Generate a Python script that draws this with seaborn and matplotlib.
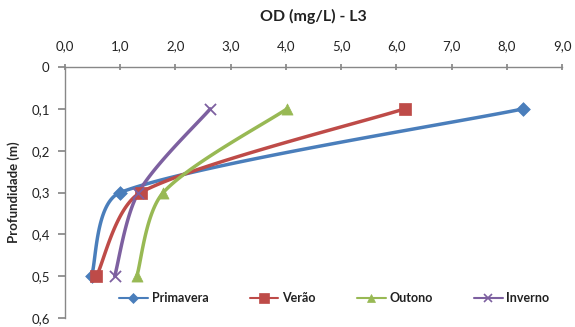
import numpy as np
import pandas as pd
import matplotlib
matplotlib.use("Agg")
import matplotlib.pyplot as plt
import seaborn as sns
from matplotlib.lines import Line2D

sns.set_theme(style="white")
plt.rcParams['font.family'] = ['Lato', 'DejaVu Sans']

depth = [0.1, 0.3, 0.5]
primavera = [8.3, 1.0, 0.48]
verao = [6.15, 1.37, 0.57]
outono = [4.02, 1.78, 1.3]
inverno = [2.63, 1.33, 0.9]
series_names = ["Primavera", "Verão", "Outono", "Inverno"]
x_ticks = [0, 1, 2, 3, 4, 5, 6, 7, 8, 9]
y_ticks = [0, 0.1, 0.2, 0.3, 0.4, 0.5, 0.6]

colors = ["#4A7EBB", "#BE4B48", "#98B954", "#7D60A0"]
markers = ["D", "s", "^", "x"]
msizes = [7, 9, 8, 8]

fig = plt.figure(figsize=(5.75, 3.27), dpi=100)
ax = fig.add_axes([65/575, 1-318/327, (562-65)/575, (318-67)/327])

sx = (562-65)/9.0
sy = (318-67)/0.6

def smooth(xs, ys, n=50, k=0.3):
    P = np.column_stack([np.array(xs)*sx, np.array(ys)*sy])
    out = []
    m = len(P)
    for i in range(m-1):
        p0 = P[i-1] if i > 0 else P[i]
        p1 = P[i]
        p2 = P[i+1]
        p3 = P[i+2] if i+2 < m else P[i+1]
        d12 = np.linalg.norm(p2-p1)
        a1 = (p2-p0)/6.0
        a2 = (p3-p1)/6.0
        if np.linalg.norm(a1) > k*d12:
            a1 = a1*k*d12/np.linalg.norm(a1)
        if np.linalg.norm(a2) > k*d12:
            a2 = a2*k*d12/np.linalg.norm(a2)
        c1 = p1 + a1
        c2 = p2 - a2
        t = np.linspace(0, 1, n)[:, None]
        b = (1-t)**3*p1 + 3*(1-t)**2*t*c1 + 3*(1-t)*t**2*c2 + t**3*p2
        out.append(b if i == 0 else b[1:])
    B = np.vstack(out)
    return B[:, 0]/sx, B[:, 1]/sy

vals = [primavera, verao, outono, inverno]
rows = []
for name, v in zip(series_names, vals):
    cx, cy = smooth(v, depth)
    for a, b in zip(cx, cy):
        rows.append({"serie": name, "od": a, "prof": b})
curves = pd.DataFrame(rows)
pts = pd.DataFrame([{"serie": n, "od": a, "prof": d}
                    for n, v in zip(series_names, vals) for a, d in zip(v, depth)])

for i, name in enumerate(series_names):
    sns.lineplot(data=curves[curves.serie == name], x="od", y="prof", sort=False,
                 estimator=None, color=colors[i], lw=2.5, ax=ax, legend=False)
for i, name in enumerate(series_names):
    sub = pts[pts.serie == name]
    if markers[i] == "x":
        ax.scatter(sub.od, sub.prof, marker="x", s=msizes[i]**2, color=colors[i],
                   linewidths=1.3, zorder=5)
    else:
        ax.scatter(sub.od, sub.prof, marker=markers[i], s=msizes[i]**2, color=colors[i],
                   edgecolors=colors[i], linewidths=0.5, zorder=5)

ax.set_xlim(0, 9)
ax.set_ylim(0.6, 0)
ax.xaxis.tick_top()
ax.set_xticks(x_ticks)
ax.set_xticklabels([f"{t:.1f}".replace(".", ",") for t in x_ticks], fontsize=9.5)
ax.set_yticks(y_ticks)
ax.set_yticklabels(["0"] + [f"{t:.1f}".replace(".", ",") for t in y_ticks[1:]], fontsize=9.5)
ax.set_xlabel("")
ax.set_ylabel("Profundidade (m)", fontsize=9.5, fontweight="bold", labelpad=8)
ax.tick_params(axis="x", which="both", direction="inout", length=5, color="#888888",
               top=True, bottom=False, pad=8, labelcolor="#222222")
ax.tick_params(axis="y", which="both", direction="out", length=5, color="#888888",
               left=True, pad=6, labelcolor="#222222")
for s in ["right", "bottom"]:
    ax.spines[s].set_visible(False)
for s in ["top", "left"]:
    ax.spines[s].set_color("#888888")
    ax.spines[s].set_linewidth(1.0)
ax.grid(False)

fig.text(0.5*(65+562)/575, 1-16/327, "OD (mg/L) - L3", ha="center", va="center",
         fontsize=11.5, fontweight="bold", color="#222222")

handles = [Line2D([0], [0], color=colors[i], lw=1.5, marker=markers[i],
                  markersize=[5, 7, 6, 6][i], markeredgewidth=1.2 if markers[i] == "x" else 0.5,
                  markeredgecolor=colors[i])
           for i in range(4)]
leg = ax.legend(handles, series_names, loc="center", bbox_to_anchor=(0.542, (318-298)/(318-67)),
                ncol=4, frameon=False, fontsize=9, handlelength=2.3, columnspacing=3.3,
                handletextpad=0.3)
for t in leg.get_texts():
    t.set_fontweight("bold")
    t.set_color("#222222")

fig.savefig("out.png", dpi=100)
